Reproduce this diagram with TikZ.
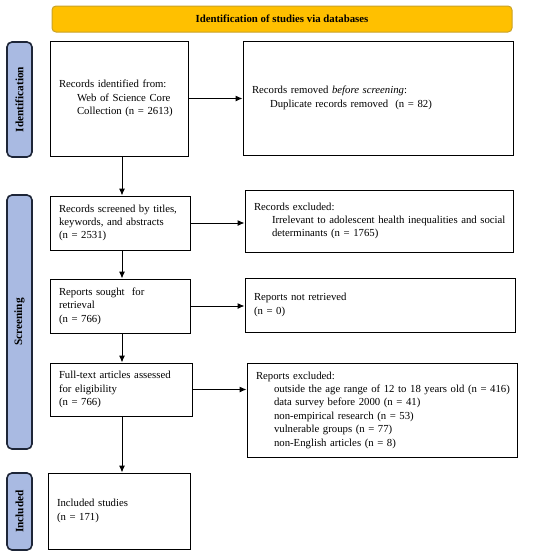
\documentclass[tikz,border=0pt]{standalone}
\usepackage{fontspec}
\setmainfont{Liberation Serif}
\usetikzlibrary{arrows.meta}
\definecolor{hdrfill}{HTML}{FFC000}
\definecolor{hdrline}{HTML}{C9A227}
\definecolor{labfill}{HTML}{A9BAE2}
\definecolor{labline}{HTML}{1E2638}
\tikzset{
  box/.style={draw=black, line width=1pt, rectangle, align=left, inner xsep=9pt, inner ysep=0pt,
    font=\fontsize{10.75}{13.4}\selectfont, anchor=center},
  lab/.style={draw=labline, fill=labfill, line width=1.6pt, rounded corners=5pt, rotate=90,
    minimum height=25pt, inner sep=0pt, font=\fontsize{11.3}{12}\selectfont\bfseries},
  hdr/.style={draw=hdrline, fill=hdrfill, line width=1pt, rounded corners=4pt,
    minimum width=460pt, minimum height=26pt, inner sep=0pt, font=\fontsize{10.8}{12}\selectfont\bfseries},
  arr/.style={-{Latex[length=7pt,width=6pt]}, line width=1pt, draw=black},
}
\newcommand{\ind}[1]{\mbox{\hspace*{18pt}#1}}
\newcommand{\lnx}[1]{\mbox{#1}}
\begin{document}
\begin{tikzpicture}[x=1pt,y=-1pt]
\useasboundingbox (0,0) rectangle (550,555);
\node[hdr] (h) at (282,19) {Identification of studies via databases};
\node[lab, minimum width=115pt] (l1) at (19.5,99.5) {Identification};
\node[lab, minimum width=254pt] (l2) at (19.5,322) {Screening};
\node[lab, minimum width=77pt] (l3) at (19.5,511.5) {Included};

\node[box, text width=120pt, minimum width=138pt, minimum height=115pt] (b1) at (119,98.5)
  {\lnx{Records identified from:}\\\ind{Web of Science Core}\\\ind{Collection (n = 2613)}};
\node[box, text width=252pt, minimum width=270pt, minimum height=114pt] (b2) at (378,98)
  {\lnx{Records removed \textit{before screening}:}\\\ind{Duplicate records removed\ \ (n = 82)}};
\node[box, text width=122pt, minimum width=140pt, minimum height=54pt] (b3) at (120,223)
  {\lnx{Records screened by titles,}\\\lnx{keywords, and abstracts}\\\lnx{(n = 2531)}};
\node[box, text width=250pt, minimum width=268pt, minimum height=62pt] (b4) at (379,221)
  {\lnx{Records excluded:}\\\ind{Irrelevant to adolescent health inequalities and social}\\\ind{determinants (n = 1765)}};
\node[box, text width=122pt, minimum width=140pt, minimum height=54pt] (b5) at (120,306)
  {\lnx{Reports sought\ \ for}\\\lnx{retrieval}\\\lnx{(n = 766)}};
\node[box, text width=252pt, minimum width=270pt, minimum height=54pt] (b6) at (380,305)
  {\lnx{Reports not retrieved}\\\lnx{(n = 0)}};
\node[box, text width=124pt, minimum width=142pt, minimum height=53pt] (b7) at (121,389.5)
  {\lnx{Full-text articles assessed}\\\lnx{for eligibility}\\\lnx{(n = 766)}};
\node[box, text width=252pt, minimum width=270pt, minimum height=94pt] (b8) at (382,410)
  {\lnx{Reports excluded:}\\\ind{outside the age range of 12 to 18 years old (n = 416)}\\\ind{data survey before 2000 (n = 41)}\\\ind{non-empirical research (n = 53)}\\\ind{vulnerable groups (n = 77)}\\\ind{non-English articles (n = 8)}};
\node[box, text width=124pt, minimum width=142pt, minimum height=76pt] (b9) at (119,511)
  {\lnx{Included studies}\\\lnx{(n = 171)}};

\coordinate (ax) at (122,0);
\draw[arr] (b1.south -| ax) -- (b3.north -| ax);
\draw[arr] (b3.south -| ax) -- (b5.north -| ax);
\draw[arr] (b5.south -| ax) -- (b7.north -| ax);
\draw[arr] (b7.south -| ax) -- (b9.north -| ax);
\draw[arr] (b1.east) -- (b2.west |- b1.east);
\draw[arr] (b3.east) -- (b4.west |- b3.east);
\draw[arr] (b5.east) -- (b6.west |- b5.east);
\draw[arr] (b7.east) -- (b8.west |- b7.east);
\end{tikzpicture}
\end{document}
